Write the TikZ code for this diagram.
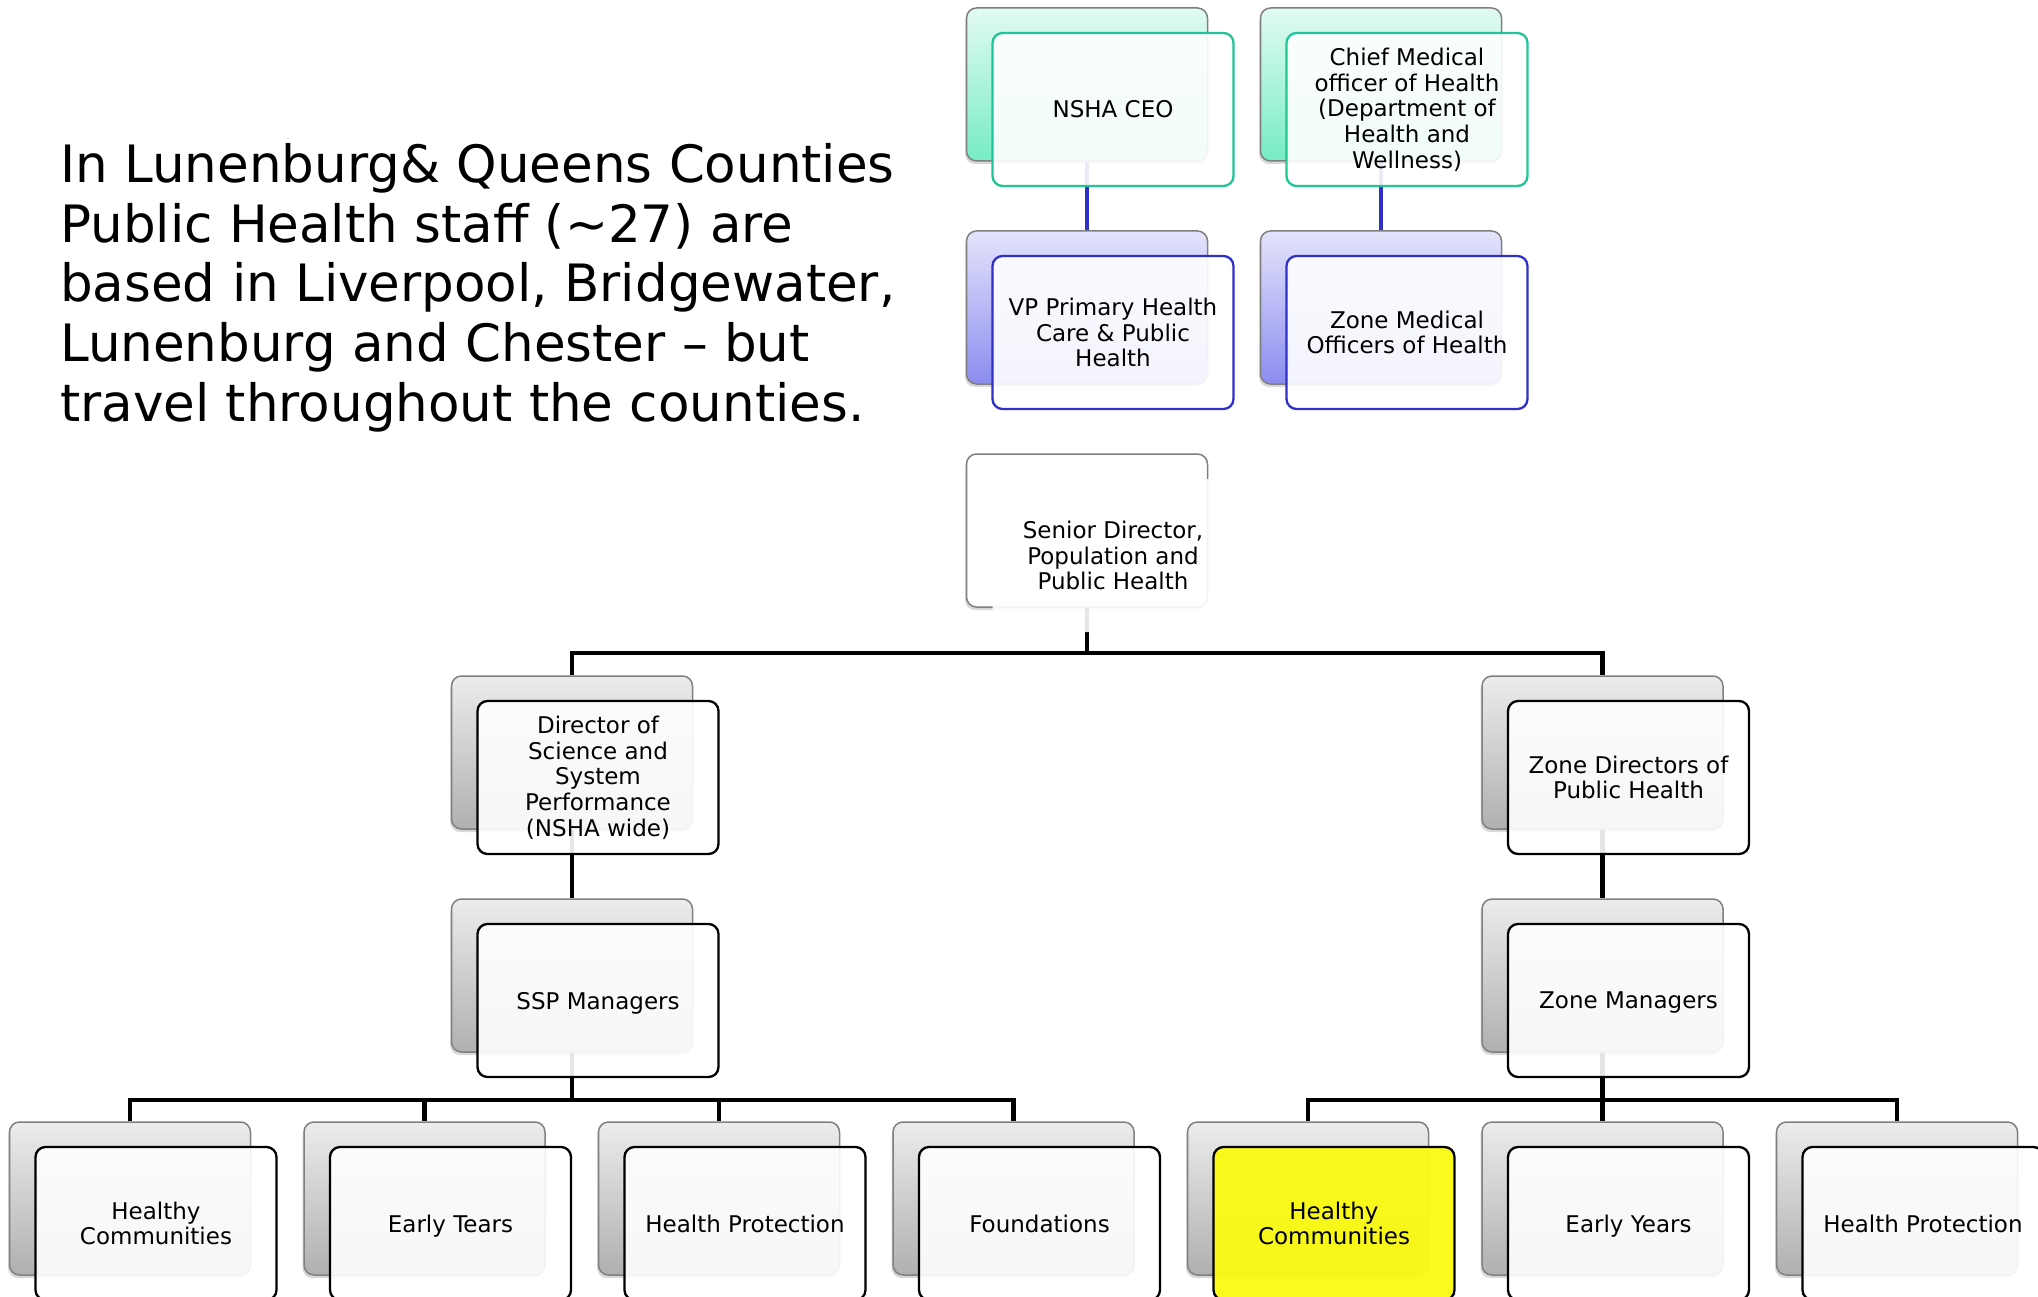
\documentclass[tikz,border=0pt]{standalone}
\usepackage{fontspec}
\setmainfont{DejaVu Sans}
\usetikzlibrary{shadows}
\newcommand\bxfont{\fontsize{23pt}{25.7pt}\selectfont}
\newcommand\bigtxtfont{\fontsize{51.5pt}{59.8pt}\selectfont}
\definecolor{tealtop}{RGB}{226,251,242}
\definecolor{tealbot}{RGB}{118,236,196}
\definecolor{purptop}{RGB}{228,228,252}
\definecolor{purpbot}{RGB}{140,140,240}
\definecolor{tealline}{RGB}{33,197,150}
\definecolor{blueline}{RGB}{48,48,200}
\definecolor{hiyellow}{RGB}{250,250,20}
\definecolor{bkborder}{RGB}{128,128,128}
\begin{document}
\begin{tikzpicture}[x=1pt,y=-1pt,
  backbox/.style={draw=bkborder, line width=1.5pt, rounded corners=10pt,
    minimum width=241pt, minimum height=153pt, inner sep=0pt,
    drop shadow={shadow xshift=-1.5pt, shadow yshift=-3pt, opacity=0.3}},
  graybk/.style={backbox, top color=gray!15, bottom color=gray!62},
  tealbk/.style={backbox, top color=tealtop, bottom color=tealbot},
  purpbk/.style={backbox, top color=purptop, bottom color=purpbot},
  whitebk/.style={backbox, fill=white},
  frontbox/.style={line width=2.3pt, rounded corners=10pt,
    minimum width=241pt, minimum height=153pt, inner sep=0pt,
    fill=white, fill opacity=0.9, text opacity=1, align=center,
    font=\bxfont, text=black},
  nodepth/.style={text depth=0pt},
  blackfr/.style={frontbox, draw=black},
  tealfr/.style={frontbox, draw=tealline},
  purpfr/.style={frontbox, draw=blueline},
  yellowfr/.style={frontbox, draw=black, fill=hiyellow, fill opacity=0.96},
  sdfr/.style={frontbox, draw=none},
  conn/.style={line width=4.5pt, black},
  bconn/.style={line width=4pt, blueline}]
\useasboundingbox (0,0) rectangle (2038,1297);
\fill[white] (0,0) rectangle (2038,1297);
\clip (0,0) rectangle (2038,1297);

% intro text
\node[anchor=north west, inner sep=0pt, align=left, font=\bigtxtfont] (intro) at (60,143)
  {In Lunenburg\& Queens Counties\\Public Health staff (\textasciitilde27) are\\based in Liverpool, Bridgewater,\\Lunenburg and Chester – but\\travel throughout the counties.};

% back boxes
\node[tealbk] (ceo-b) at (1087,84.5) {};
\node[tealbk] (cmo-b) at (1381,84.5) {};
\node[purpbk] (vp-b) at (1087,307.5) {};
\node[purpbk] (zmo-b) at (1381,307.5) {};
\node[whitebk] (sd-b) at (1087,530.5) {};
\node[graybk] (dir-b) at (572,752.5) {};
\node[graybk] (zd-b) at (1602.5,752.5) {};
\node[graybk] (ssp-b) at (572,975.5) {};
\node[graybk] (zm-b) at (1602.5,975.5) {};
\node[graybk] (b1-b) at (130,1198.5) {};
\node[graybk] (b2-b) at (424.5,1198.5) {};
\node[graybk] (b3-b) at (719,1198.5) {};
\node[graybk] (b4-b) at (1013.5,1198.5) {};
\node[graybk] (b5-b) at (1308,1198.5) {};
\node[graybk] (b6-b) at (1602.5,1198.5) {};
\node[graybk] (b7-b) at (1897,1198.5) {};

% connectors
\draw[bconn] (ceo-b.south) -- (vp-b.north);
\draw[bconn] (cmo-b.south) -- (zmo-b.north);
\coordinate (j1) at (1087,653);
\draw[conn] (sd-b.south) -- (j1);
\draw[conn] (dir-b.north) |- (j1) -| (zd-b.north);
\draw[conn] (dir-b.south) -- (ssp-b.north);
\draw[conn] (zd-b.south) -- (zm-b.north);
\coordinate (j2) at (572,1100);
\draw[conn] (ssp-b.south) -- (j2);
\draw[conn] (b1-b.north) |- (j2) -| (b4-b.north);
\draw[conn] (b2-b.north) -- (b2-b.north |- j2);
\draw[conn] (b3-b.north) -- (b3-b.north |- j2);
\coordinate (j3) at (1602.5,1100);
\draw[conn] (zm-b.south) -- (j3);
\draw[conn] (b5-b.north) |- (j3) -| (b7-b.north);
\draw[conn] (b6-b.north) -- (j3);

% front boxes
\node[tealfr] (ceo) at (1113,109.5) {NSHA CEO};
\node[tealfr] (cmo) at (1407,109.5) {Chief Medical\\officer of Health\\(Department of\\Health and\\Wellness)};
\node[purpfr] (vp) at (1113,332.5) {VP Primary Health\\Care \& Public\\Health};
\node[purpfr] (zmo) at (1407,332.5) {Zone Medical\\Officers of Health};
\node[sdfr] (sd) at (1113,555.5) {Senior Director,\\Population and\\Public Health};
\node[blackfr] (dir) at (598,777.5) {Director of\\Science and\\System\\Performance\\(NSHA wide)};
\node[blackfr] (zd) at (1628.5,777.5) {Zone Directors of\\Public Health};
\node[blackfr, nodepth] (ssp) at (598,1000.5) {SSP Managers};
\node[blackfr, nodepth] (zm) at (1628.5,1000.5) {Zone Managers};
\node[blackfr] (b1) at (156,1223.5) {Healthy\\Communities};
\node[blackfr, nodepth] (b2) at (450.5,1223.5) {Early Tears};
\node[blackfr] (b3) at (745,1223.5) {Health Protection};
\node[blackfr] (b4) at (1039.5,1223.5) {Foundations};
\node[yellowfr] (b5) at (1334,1223.5) {Healthy\\Communities};
\node[blackfr, nodepth] (b6) at (1628.5,1223.5) {Early Years};
\node[blackfr] (b7) at (1923,1223.5) {Health Protection};
\end{tikzpicture}
\end{document}
